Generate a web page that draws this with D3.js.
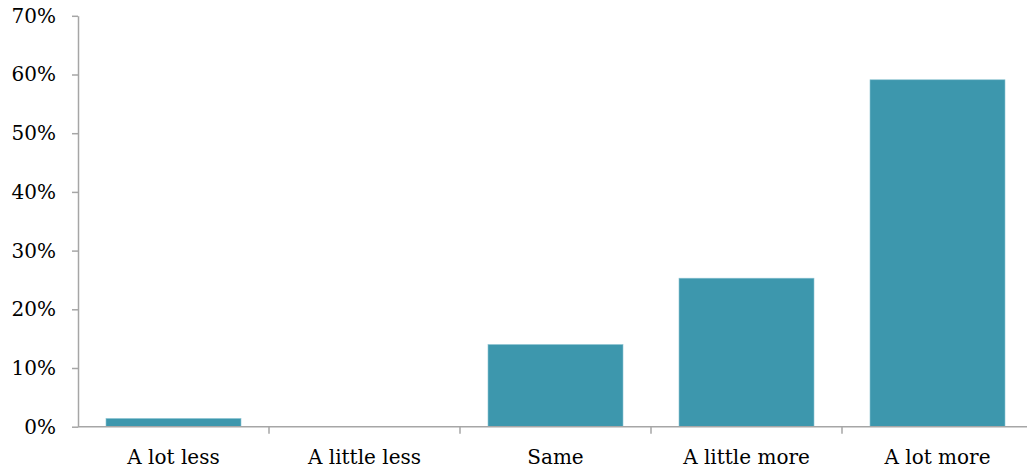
<!DOCTYPE html>
<html><head><meta charset="utf-8">
<script src="https://cdn.jsdelivr.net/npm/d3@7"></script>
<style>body{margin:0;background:#fff}svg{display:block}</style>
</head><body>
<script>
const categories = ["A lot less","A little less","Same","A little more","A lot more"];
const values = [1.4, 0, 14.0, 25.3, 59.1];
const yTicks = [0,10,20,30,40,50,60,70];

const W=1027,H=473;
const svg=d3.select("body").append("svg").attr("width",W).attr("height",H);
const x=d3.scaleBand().domain(categories).range([78,1033]).paddingInner(0.2932).paddingOuter(0.1466);
const y=d3.scaleLinear().domain([0,70]).range([426.7,15.8]);
const font='"DejaVu Serif", serif';
const axisColor="#a6a6a6";

svg.append("g").selectAll("rect").data(values).join("rect")
  .attr("x",(d,i)=>x(categories[i])).attr("width",x.bandwidth())
  .attr("y",d=>y(d)).attr("height",d=>y(0)-y(d))
  .attr("fill","#3d97ad").attr("stroke","#8cc4d2").attr("stroke-width",0.6);

const ya=svg.append("g").attr("transform","translate(78,0)")
  .call(d3.axisLeft(y).tickValues(yTicks).tickFormat(d=>d+"%").tickSize(6).tickSizeOuter(0).tickPadding(16));
ya.select(".domain").attr("stroke",axisColor).attr("stroke-width",1.5);
ya.selectAll(".tick line").attr("stroke",axisColor).attr("stroke-width",1.5);
ya.selectAll("text").attr("fill","#000").style("font-family",font).style("font-size","20px");

const step=x.step();
const xa=svg.append("g").attr("transform",`translate(0,${y(0)})`)
  .call(d3.axisBottom(x).tickSize(0).tickPadding(23));
xa.select(".domain").remove();
xa.append("line").attr("x1",78).attr("x2",W).attr("stroke",axisColor).attr("stroke-width",1.5);
xa.selectAll(".tick text").attr("fill","#000").style("font-family",font).style("font-size","20px");
xa.selectAll(".sep").data(categories.slice(1)).join("line")
  .attr("x1",d=>x(d)-(step-x.bandwidth())/2).attr("x2",d=>x(d)-(step-x.bandwidth())/2)
  .attr("y1",0).attr("y2",7).attr("stroke",axisColor).attr("stroke-width",1.5);
</script>
</body></html>
